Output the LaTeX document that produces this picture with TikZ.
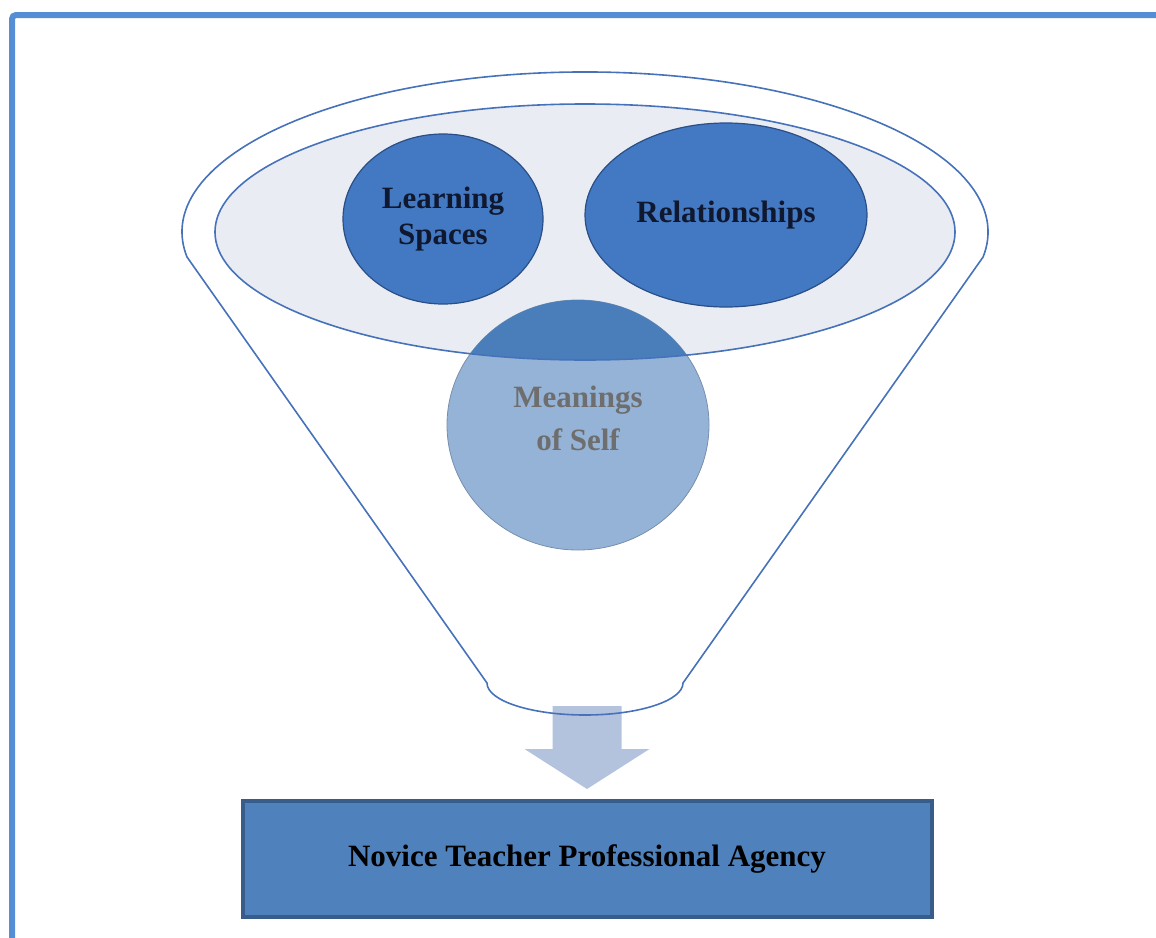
\documentclass[tikz,border=0pt]{standalone}
\usepackage{fontspec}
\setmainfont{Liberation Serif}
\usetikzlibrary{shapes,positioning}

\definecolor{framecol}{RGB}{85,142,213}
\definecolor{funnelcol}{RGB}{70,114,186}
\definecolor{rimcol}{RGB}{234,236,243}
\definecolor{bubblecol}{RGB}{66,121,194}
\definecolor{bubbleedge}{RGB}{42,78,135}
\definecolor{bubbletext}{RGB}{16,24,48}
\definecolor{selflight}{RGB}{149,179,215}
\definecolor{selfdark}{RGB}{74,126,187}
\definecolor{selftext}{RGB}{110,110,110}
\definecolor{arrowcol}{RGB}{179,195,221}
\definecolor{boxcol}{RGB}{79,129,189}
\definecolor{boxedge}{RGB}{56,93,138}

\begin{document}
\begin{tikzpicture}[
    x=1pt,
    y=-1pt,
    font=\fontsize{31}{36}\selectfont\bfseries,
    align=center,
    every node/.style={
      inner sep=0,
      outer sep=0
    }
  ]

  \tikzstyle{funnel} = [draw=funnelcol, line width=1.6pt]
  \tikzstyle{bubble} = [ellipse, fill=bubblecol, draw=bubbleedge, line width=1.2pt, text=bubbletext]
  \tikzstyle{self} = [ellipse, fill=selflight, draw=selflight!80!black, line width=0.8pt, text=selftext]
  \tikzstyle{agencybox} = [rectangle, fill=boxcol, draw=boxedge, line width=4pt, text=black]

  \useasboundingbox (0,0) rectangle (1156,937);
  \clip (0,0) rectangle (1156,937);

  \draw[framecol, line width=6pt, rounded corners=4pt] (12,15) rectangle (1190,970);

  % funnel
  \node [ellipse, fill=rimcol, minimum width=740pt, minimum height=256pt] (rim) at (585,232) {};
  \coordinate (spout) at (587,706);
  \fill[arrowcol] (spout) ++(-34.5,0) -- ++(69,0) -- ++(0,43) -- ++(28,0) -- ++(-62.5,40) -- ++(-62.5,-40) -- ++(28,0) -- cycle;
  \draw[funnel] (487,683) -- (187,257) arc[start angle=171, end angle=369, x radius=403, y radius=160]
    -- (683,683) arc[start angle=0, end angle=180, x radius=98, y radius=32] -- cycle;

  \node [bubble, minimum width=200pt, minimum height=170pt] (spaces) at (443,219) {\fontsize{31}{34}\selectfont Learning\\Spaces};
  \node [bubble, minimum width=282pt, minimum height=184pt] (relations) at (726,215) {Relationships};

  \node [self, minimum width=262pt, minimum height=250pt] (self) at (578,425) {};
  \begin{scope}
    \clip (rim.center) ellipse [x radius=370, y radius=128];
    \fill[selfdark] (self.center) ellipse [x radius=131, y radius=125];
  \end{scope}
  \node [text=selftext, font=\fontsize{31}{43}\selectfont\bfseries] (selflabel) at (578,418) {Meanings\\of Self};
  \draw[funnel] (rim.center) ellipse [x radius=370, y radius=128];

  \node [agencybox, minimum width=689pt, minimum height=116pt, below=12pt of spout|-{(0,789)}] (agency) {Novice Teacher Professional Agency};

\end{tikzpicture}
\end{document}
